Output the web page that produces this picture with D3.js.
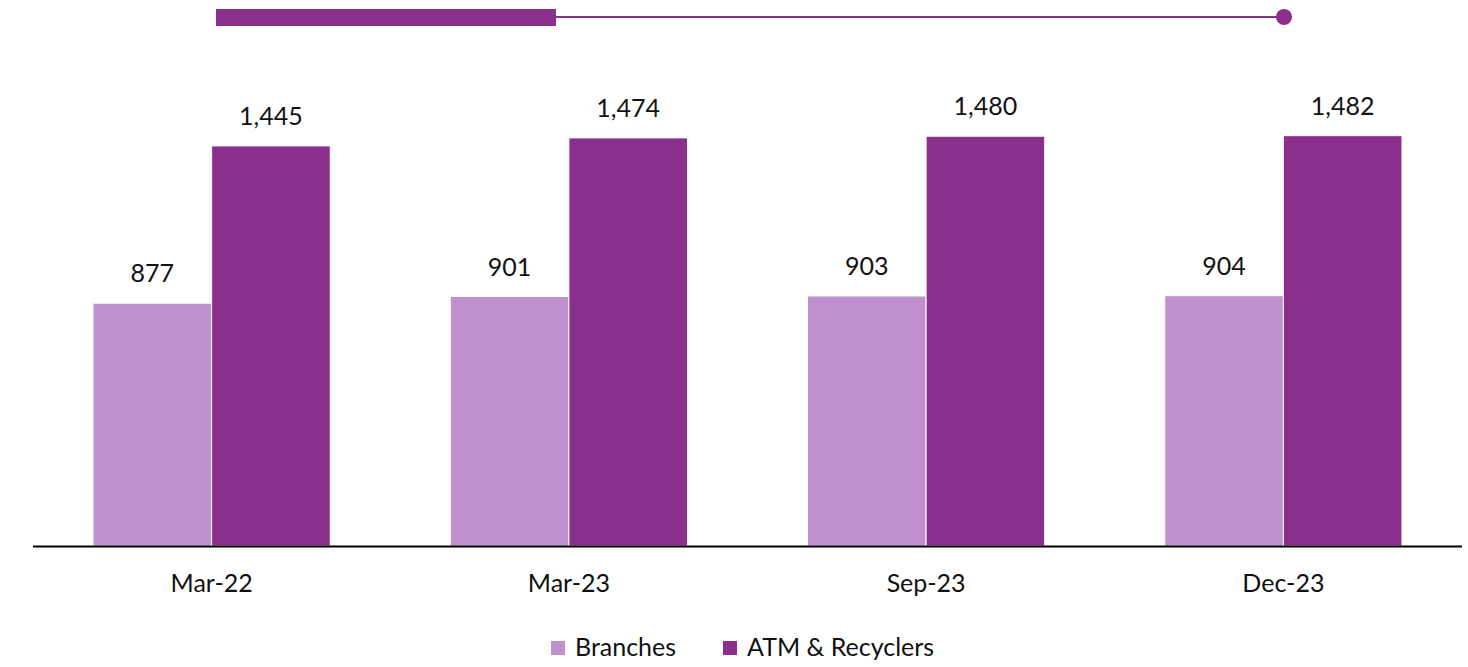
<!DOCTYPE html>
<html>
<head>
<meta charset="utf-8">
<script src="https://cdn.jsdelivr.net/npm/d3@7"></script>
<style>
  body { margin: 0; background: #fff; }
  text { font-family: Lato, "Open Sans", sans-serif; fill: #111; }
</style>
</head>
<body>
<div id="chart"></div>
<script>
var categories = ["Mar-22", "Mar-23", "Sep-23", "Dec-23"];
var seriesNames = ["Branches", "ATM & Recyclers"];
var branches = [877, 901, 903, 904];
var atms = [1445, 1474, 1480, 1482];
var colors = ["#C190CF", "#8B2F8C"];

var svgWidth = 1468;
var svgHeight = 667;

var svg = d3.select("#chart")
  .append("svg")
  .attr("width", svgWidth)
  .attr("height", svgHeight);

// decorative header line
svg.append("line")
  .attr("x1", 556).attr("x2", 1283)
  .attr("y1", 17).attr("y2", 17)
  .attr("stroke", "#8B2F8C")
  .attr("stroke-width", 2);
svg.append("rect")
  .attr("x", 216).attr("y", 9)
  .attr("width", 340).attr("height", 17)
  .attr("fill", "#8B2F8C");
svg.append("circle")
  .attr("cx", 1284).attr("cy", 17).attr("r", 8)
  .attr("fill", "#8B2F8C");

var baseY = 546;

var x0 = d3.scaleBand()
  .domain(categories)
  .range([33, 1462])
  .paddingInner(0.336)
  .paddingOuter(0.168);

var x1 = d3.scaleBand()
  .domain(seriesNames)
  .range([0, x0.bandwidth()]);

var y = d3.scaleLinear()
  .domain([0, 1600])
  .range([baseY, baseY - 443]);

var rows = categories.map(function(c, i) {
  return { cat: c, values: [branches[i], atms[i]] };
});

var groups = svg.selectAll("g.cat")
  .data(rows)
  .enter()
  .append("g")
  .attr("class", "cat")
  .attr("transform", d => `translate(${x0(d.cat)},0)`);

groups.selectAll("rect")
  .data(d => d.values.map((v, j) => ({ key: seriesNames[j], value: v, j: j })))
  .enter()
  .append("rect")
  .attr("x", d => x1(d.key))
  .attr("y", d => y(d.value))
  .attr("width", x1.bandwidth())
  .attr("height", d => baseY - y(d.value))
  .attr("fill", d => colors[d.j])
  .attr("stroke", "#fff")
  .attr("stroke-width", 1);

groups.selectAll("text.val")
  .data(d => d.values.map((v, j) => ({ key: seriesNames[j], value: v })))
  .enter()
  .append("text")
  .attr("class", "val")
  .attr("x", d => x1(d.key) + x1.bandwidth() / 2)
  .attr("y", d => y(d.value) - 21)
  .attr("text-anchor", "middle")
  .style("font-size", "25px")
  .text(d => d3.format(",")(d.value));

// x axis
var xAxis = svg.append("g")
  .attr("transform", `translate(0, ${baseY})`)
  .call(d3.axisBottom(x0).tickSize(0).tickPadding(28));
xAxis.select(".domain")
  .attr("d", "M33,0.5H1462")
  .attr("stroke", "#000")
  .attr("stroke-width", 2);
xAxis.selectAll("text")
  .style("font-size", "25px")
  .style("font-family", "Lato, 'Open Sans', sans-serif")
  .attr("fill", "#111");

// legend
var legendX = [551, 723];
var legend = svg.selectAll("g.legend")
  .data(seriesNames)
  .enter()
  .append("g")
  .attr("class", "legend")
  .attr("transform", (d, i) => `translate(${legendX[i]}, 641)`);
legend.append("rect")
  .attr("width", 14).attr("height", 14)
  .attr("fill", (d, i) => colors[i]);
legend.append("text")
  .attr("x", 24)
  .attr("y", 15)
  .style("font-size", "25px")
  .text(d => d);
</script>
</body>
</html>
